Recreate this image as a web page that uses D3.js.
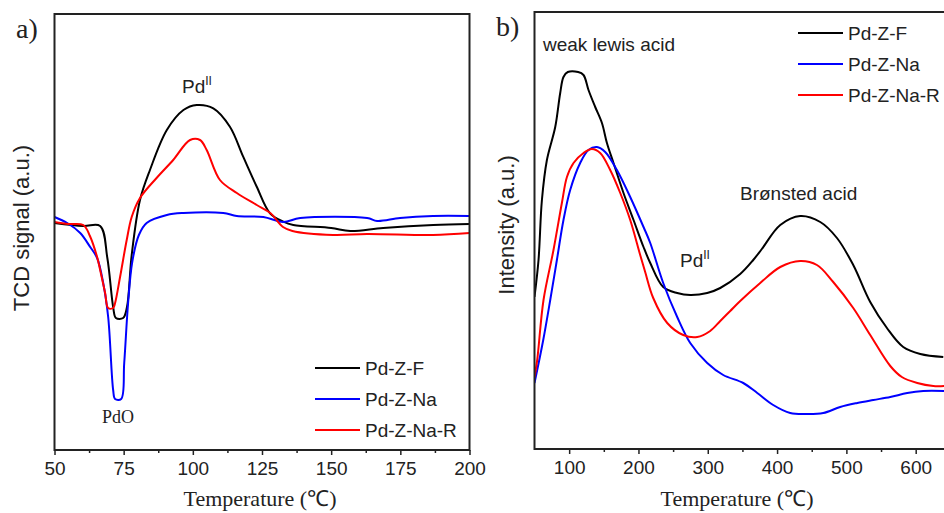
<!DOCTYPE html>
<html><head><meta charset="utf-8">
<script src="https://cdn.jsdelivr.net/npm/d3@7"></script>
<style>body{margin:0;background:#fff}svg{display:block}</style>
</head><body>
<svg id="c" width="944" height="513"></svg>
<script>
// ---------- Panel a data (TPR, Temperature °C vs TCD signal a.u.) ----------
const seriesNames = ["Pd-Z-F", "Pd-Z-Na", "Pd-Z-Na-R"];
const seriesColors = ["#000000", "#0000ff", "#ff0000"];
const aTicks = [50, 75, 100, 125, 150, 175, 200];

const aF = [[50,227],[60.4,224],[66.5,224],[69.1,192],[71.2,143],[72.2,132],[74.8,132],[76.2,143],[77.9,195],[80.9,250],[84.5,280],[90.6,320],[96.6,340],[101.4,345],[107.4,341.7],[113.4,323.3],[118.2,293.3],[123.1,263.3],[127.9,236.7],[132.7,228.3],[136.3,225],[150,222],[156.9,219],[168.8,222],[186.9,225],[200,226]];
const aNa = [[50,233],[54.6,227],[59.3,217],[62.9,203],[65.4,192],[67.6,167],[69.4,133],[71.2,60],[71.9,51],[74.1,51],[75.2,87],[76.6,147],[78.1,188],[80.5,215],[83.3,227],[90.6,235],[96.6,237],[111,237],[115.9,234],[125.5,233],[132.7,228],[138.8,232],[163,232],[166.6,229],[174.9,232],[186.8,234],[200,234]];
const aNaR = [[50,228],[55,226],[60.4,225],[62.8,214],[65.4,193],[66.5,180],[68.3,157],[69.4,142],[71.2,142],[71.9,147],[73.7,173],[76.1,210],[77.9,233],[80.9,252],[86.9,272],[92.9,290],[99,310],[102.6,310],[105,300],[109.8,270],[115.9,257],[123.1,245],[128,237],[132.6,223],[136,219],[150.7,215],[163,216],[186.8,215],[200,217]];

// ---------- Panel b data (TPD, Temperature °C vs Intensity a.u.) ----------
const bTicks = [100, 200, 300, 400, 500, 600];
const bF = [[50,152],[55.8,189],[60.7,249],[67.9,289],[79.9,322],[87.1,356],[91.8,372],[98,377],[113,377],[120.7,374],[127.9,359],[137.6,342],[147.3,326],[154.5,306],[164,286],[178.4,256],[192.9,229],[207.3,202],[217,186],[235.7,162],[255.9,156],[274.7,154],[299.2,156],[318,161],[346.8,175],[365.6,189],[378,200],[404.6,224],[433.4,233],[462.3,227],[486.4,211],[509.9,184],[534.4,147],[558.5,121],[582,102],[606.6,95],[639.8,92]];
const bNa = [[50,66],[62.6,109],[72.7,149],[82.3,189],[91.8,229],[101.5,259],[115.9,286],[127.9,299],[140,302],[152,297],[168.9,279],[188.1,252],[207.3,222],[217,206],[235.7,166],[255.9,132],[274.7,106],[299.2,86],[322.3,74],[351.2,66],[371.4,56],[394.4,44],[419,36],[443.5,35],[466.6,36],[491.1,42],[515.7,46],[538.8,49],[563.3,52],[587.8,56],[610.9,58],[641.3,58]];
const bNaR = [[50,72],[53.9,89],[63,149],[77.4,199],[89.5,246],[96.8,272],[106.3,286],[120.7,296],[132.8,300],[144.8,296],[159.2,279],[173.7,256],[188.1,229],[202.5,194],[209.7,177],[221.3,151],[241.5,126],[264.6,114],[284.8,112],[303.5,118],[318,128],[332.4,138],[346.8,148],[375.7,166],[404.6,182],[433.4,188],[457.5,184],[481,167],[509.9,141],[534.4,114],[563.3,83],[580,72],[602.3,66],[625.4,63],[641.3,63]];

const svg = d3.select("#c");
const sans = "Arial, 'Liberation Sans', sans-serif";
const serif = "'Times New Roman', 'Liberation Serif', serif";

function panel(opt) {
  const g = svg.append("g");
  const x = d3.scaleLinear().domain(opt.xDomain).range(opt.xRange);
  const y = d3.scaleLinear().domain(opt.yDomain).range(opt.yRange);
  const [x0, x1] = opt.xRange, [yb, yt] = opt.yRange;

  // minor ticks
  g.append("g").attr("transform", `translate(0,${yb})`)
    .call(d3.axisBottom(x).tickValues(opt.minor).tickSize(3).tickFormat(""))
    .call(s => s.select(".domain").remove())
    .call(s => s.selectAll("line").attr("stroke", "#222").attr("stroke-width", 1.5));
  // major ticks
  const ax = g.append("g").attr("transform", `translate(0,${yb})`)
    .call(d3.axisBottom(x).tickValues(opt.ticks).tickSize(5).tickPadding(7).tickFormat(d3.format("d")));
  ax.select(".domain").remove();
  ax.selectAll("line").attr("stroke", "#222").attr("stroke-width", 1.5);
  ax.selectAll("text").attr("font-family", sans).attr("font-size", 19).attr("fill", "#222");

  // lines
  const line = d3.line().x(d => x(d[0])).y(d => y(d[1])).curve(d3.curveCatmullRom.alpha(0.5));
  const clipId = "clip" + opt.id;
  g.append("clipPath").attr("id", clipId).append("rect")
    .attr("x", x0).attr("y", yt).attr("width", x1 - x0).attr("height", yb - yt);
  opt.data.forEach((d, i) => {
    g.append("path").datum(d).attr("d", line).attr("fill", "none")
      .attr("stroke", seriesColors[i]).attr("stroke-width", 2)
      .attr("stroke-linejoin", "round").attr("clip-path", `url(#${clipId})`);
  });

  // frame
  g.append("rect").attr("x", x0).attr("y", yt).attr("width", x1 - x0).attr("height", yb - yt)
    .attr("fill", "none").attr("stroke", "#222").attr("stroke-width", 2);

  // legend
  seriesNames.forEach((n, i) => {
    const ly = opt.legendY + i * 31;
    g.append("line").attr("x1", opt.legendX).attr("x2", opt.legendX + 45)
      .attr("y1", ly).attr("y2", ly).attr("stroke", seriesColors[i]).attr("stroke-width", 2);
    g.append("text").attr("x", opt.legendX + 50).attr("y", ly + 7)
      .attr("font-family", sans).attr("font-size", 19).attr("fill", "#222").text(n);
  });

  // axis titles
  g.append("text").attr("x", opt.xTitleX).attr("y", 506)
    .attr("text-anchor", "middle").attr("font-family", serif).attr("font-size", 22)
    .attr("fill", "#222").text("Temperature (℃)");
  g.append("text").attr("transform", `translate(${opt.yTitleX},${opt.yTitleY}) rotate(-90)`)
    .attr("text-anchor", "middle").attr("font-family", sans).attr("font-size", 22)
    .attr("fill", "#222").text(opt.yTitle);
  // panel label
  g.append("text").attr("x", opt.labelX).attr("y", opt.labelY)
    .attr("font-family", serif).attr("font-size", 28).attr("fill", "#222").text(opt.label);
  return {g, x, y};
}

const A = panel({
  id: "a", xDomain: [50, 200], xRange: [54.5, 469.5], yDomain: [0, 436], yRange: [450, 14],
  ticks: aTicks, minor: d3.range(62.5, 200, 25), data: [aF, aNa, aNaR],
  legendX: 315, legendY: 368, xTitleX: 260, yTitleX: 29, yTitleY: 228, yTitle: "TCD signal (a.u.)",
  label: "a)", labelX: 16, labelY: 38
});
A.g.append("text").attr("x", 182).attr("y", 93).attr("font-family", sans).attr("font-size", 19)
  .attr("fill", "#222").text("Pd").append("tspan").attr("dy", -8).attr("font-size", 12).text("II");
A.g.append("text").attr("x", 102).attr("y", 423).attr("font-family", serif).attr("font-size", 18)
  .attr("fill", "#222").text("PdO");

const B = panel({
  id: "b", xDomain: [50, 700], xRange: [534.5, 985], yDomain: [0, 437], yRange: [449, 12],
  ticks: bTicks, minor: d3.range(150, 700, 100), data: [bF, bNa, bNaR],
  legendX: 798, legendY: 33, xTitleX: 737, yTitleX: 514, yTitleY: 225, yTitle: "Intensity (a.u.)",
  label: "b)", labelX: 496, labelY: 36
});
B.g.append("text").attr("x", 543).attr("y", 51).attr("font-family", sans).attr("font-size", 19)
  .attr("fill", "#222").text("weak lewis acid");
B.g.append("text").attr("x", 740).attr("y", 200).attr("font-family", sans).attr("font-size", 19)
  .attr("fill", "#222").text("Brønsted acid");
B.g.append("text").attr("x", 680).attr("y", 267).attr("font-family", sans).attr("font-size", 19)
  .attr("fill", "#222").text("Pd").append("tspan").attr("dy", -8).attr("font-size", 12).text("II");
</script>
</body></html>
